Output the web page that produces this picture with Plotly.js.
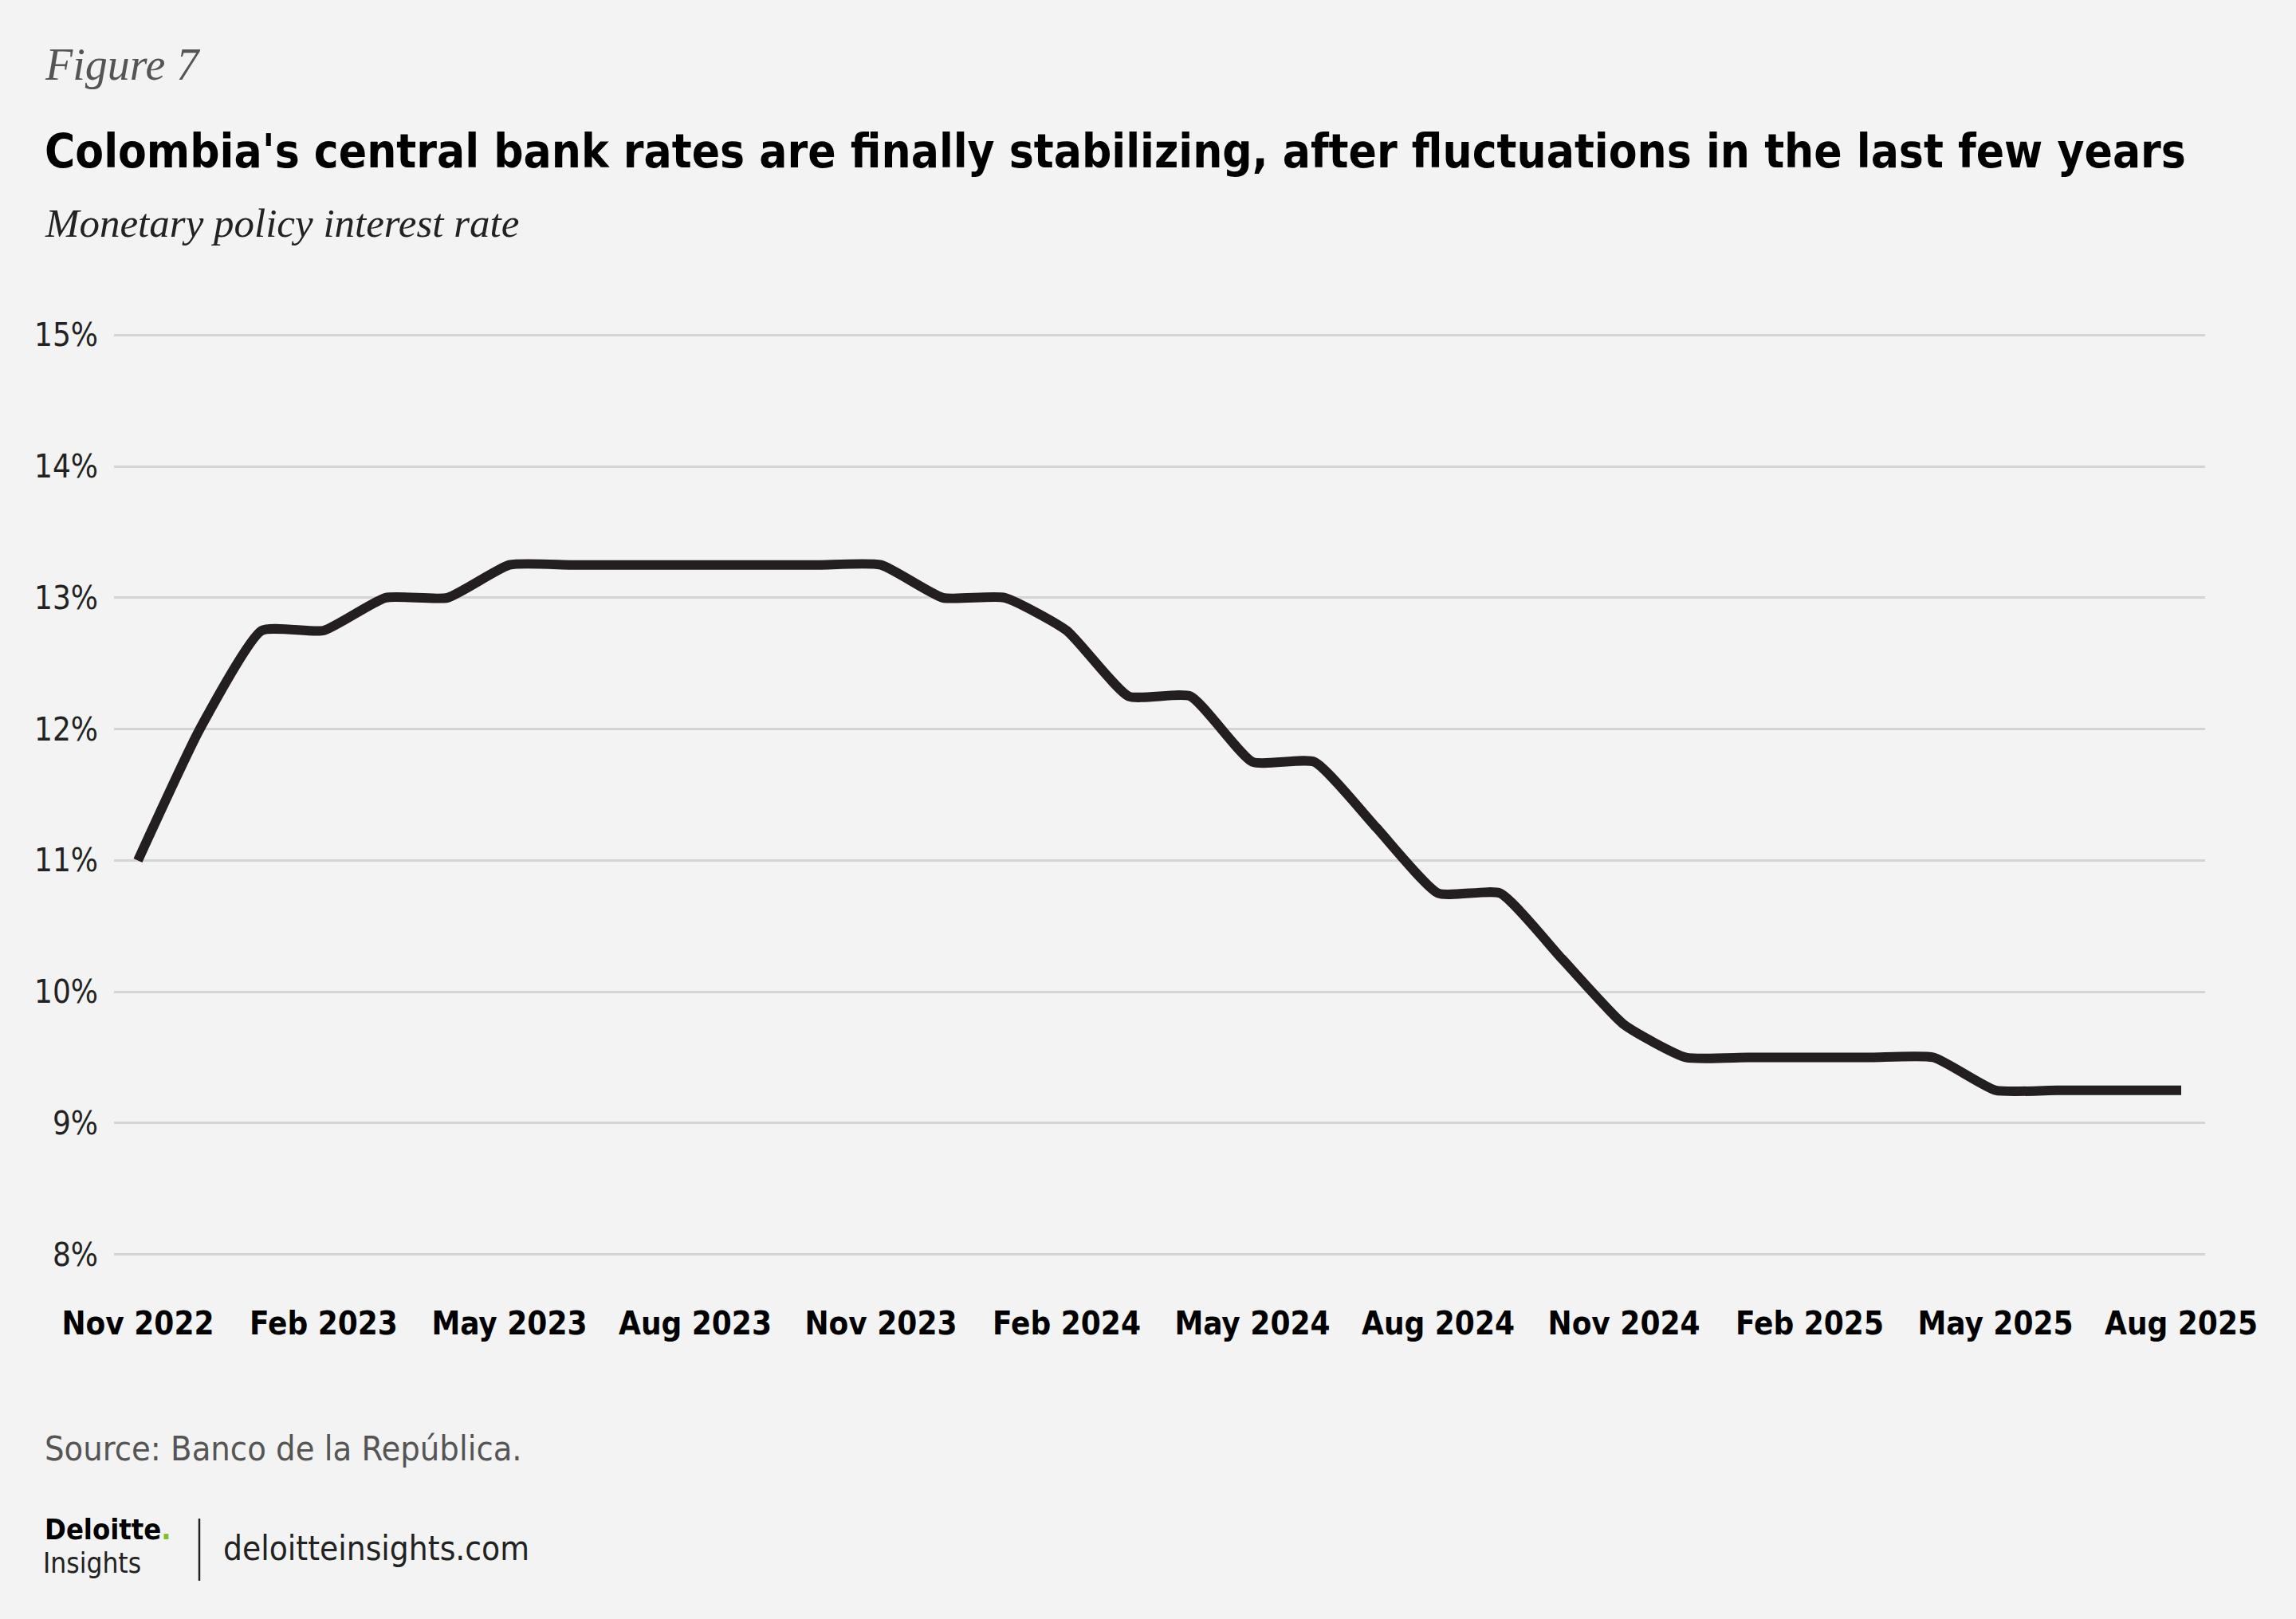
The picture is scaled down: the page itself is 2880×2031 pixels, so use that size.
<!DOCTYPE html>
<html><head><meta charset="utf-8">
<script src="https://cdn.plot.ly/plotly-3.0.1.min.js"></script>
<style>html,body{margin:0;padding:0;background:#f2f3f2;} #chart{width:2880px;height:2031px;}</style>
</head><body><div id="chart"></div>
<script>
const months = ["Nov 2022","Dec 2022","Jan 2023","Feb 2023","Mar 2023","Apr 2023","May 2023","Jun 2023","Jul 2023","Aug 2023","Sep 2023","Oct 2023","Nov 2023","Dec 2023","Jan 2024","Feb 2024","Mar 2024","Apr 2024","May 2024","Jun 2024","Jul 2024","Aug 2024","Sep 2024","Oct 2024","Nov 2024","Dec 2024","Jan 2025","Feb 2025","Mar 2025","Apr 2025","May 2025","Jun 2025","Jul 2025","Aug 2025"];
const policyRate = [11.0,12.0,12.75,12.75,13.0,13.0,13.25,13.25,13.25,13.25,13.25,13.25,13.25,13.0,13.0,12.75,12.25,12.25,11.75,11.75,11.25,10.75,10.75,10.25,9.75,9.5,9.5,9.5,9.5,9.5,9.25,9.25,9.25,9.25];
const tickLabels = ["Nov 2022","Feb 2023","May 2023","Aug 2023","Nov 2023","Feb 2024","May 2024","Aug 2024","Nov 2024","Feb 2025","May 2025","Aug 2025"];
const yTicks = [8,9,10,11,12,13,14,15];
const yTickText = ["8%","9%","10%","11%","12%","13%","14%","15%"];

const W = 2880, H = 2031;
const plotL = 143, plotR = 2766, plotT = 417, plotB = 1577;
const plotW = plotR - plotL, plotH = plotB - plotT;
const ax = px => (px - plotL) / plotW;
const ay = py => (plotB - py) / plotH;

const narrow = "'DejaVu Sans Condensed', 'Liberation Sans Narrow', 'Roboto', sans-serif";
const serif = "'Liberation Serif', 'DejaVu Serif', serif";

const trace = {
  x: months, y: policyRate, type: 'scatter', mode: 'lines',
  line: {color: '#231f20', width: 12, shape: 'spline', smoothing: 0.5},
  hoverinfo: 'skip'
};

function note(text, px, py, font) {
  return {text: text, xref: 'paper', yref: 'paper', x: ax(px), y: ay(py),
    xanchor: 'left', yanchor: 'middle', showarrow: false, align: 'left',
    borderpad: 0, font: font};
}

const layout = {
  width: W, height: H,
  paper_bgcolor: '#f2f3f2', plot_bgcolor: '#f2f3f2',
  margin: {l: plotL, r: W - plotR, t: plotT, b: H - plotB, pad: 0},
  showlegend: false,
  xaxis: {
    type: 'category', range: [-0.386, months.length - 1 + 0.386],
    tickvals: tickLabels, ticktext: tickLabels,
    showgrid: false, zeroline: false, showline: false, ticks: '',
    tickfont: {family: narrow, size: 40, color: '#000', weight: 700},
    ticklabelstandoff: 56, fixedrange: true
  },
  yaxis: {
    range: [7.98, 15.02], tickvals: yTicks, ticktext: yTickText,
    showgrid: true, gridcolor: '#d3d5d5', gridwidth: 3,
    zeroline: false, showline: false, ticks: '',
    tickfont: {family: narrow, size: 40, color: '#222', weight: 300},
    ticklabelstandoff: 19, fixedrange: true
  },
  annotations: [
    note('Figure 7', 55, 81, {family: serif, size: 56, color: '#555', style: 'italic'}),
    note("Colombia's central bank rates are finally stabilizing, after fluctuations in the last few years", 55, 190, {family: narrow, size: 58, color: '#000', weight: 700}),
    note('Monetary policy interest rate', 55, 280, {family: serif, size: 51, color: '#222', style: 'italic'}),
    note('Source: Banco de la República.', 55, 1817, {family: narrow, size: 43, color: '#555'}),
    note("Deloitte<span style='color:#86bc25'>.</span>", 55, 1918, {family: narrow, size: 36, color: '#000', weight: 700}),
    note('Insights', 53, 1961, {family: narrow, size: 35, color: '#222'}),
    note('deloitteinsights.com', 279, 1942, {family: narrow, size: 42, color: '#222'})
  ],
  shapes: [
    {type: 'line', xref: 'paper', yref: 'paper', x0: ax(250), x1: ax(250), y0: ay(1905), y1: ay(1983),
     line: {color: '#222', width: 2.5}}
  ]
};

Plotly.newPlot('chart', [trace], layout, {displayModeBar: false, staticPlot: true});
</script>
</body></html>
